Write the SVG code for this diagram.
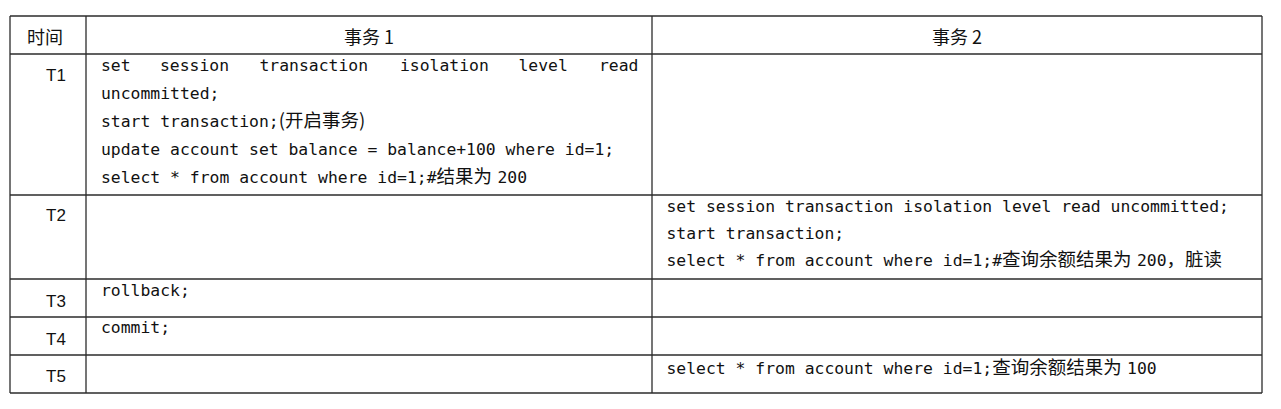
<svg xmlns="http://www.w3.org/2000/svg" width="1281" height="409" viewBox="0 0 1281 409">
<style>
  .grid line { stroke: #2b2b2b; stroke-width: 1.3; }
  .hd { font-family: "Noto Sans CJK SC", "Noto Sans", sans-serif; font-size: 18px; fill: #111; }
  .lbl { font-family: "Liberation Sans", "Noto Sans", sans-serif; font-size: 17px; fill: #111; }
  .code { font-family: "DejaVu Sans Mono", "Liberation Mono", "Noto Sans CJK SC", monospace; font-size: 16.4px; fill: #111; }
  .cjk { font-family: "Noto Sans CJK SC", sans-serif; font-size: 18.5px; }
  .sp { font-size: 9px; }
</style>
<rect width="1281" height="409" fill="#ffffff"/>
<g id="grid" class="grid">
  <line x1="10" y1="16" x2="1262" y2="16"/>
  <line x1="10" y1="54" x2="1262" y2="54"/>
  <line x1="10" y1="195" x2="1262" y2="195"/>
  <line x1="10" y1="279" x2="1262" y2="279"/>
  <line x1="10" y1="317" x2="1262" y2="317"/>
  <line x1="10" y1="355" x2="1262" y2="355"/>
  <line x1="10" y1="393" x2="1262" y2="393"/>
  <line x1="10" y1="16" x2="10" y2="393"/>
  <line x1="86" y1="16" x2="86" y2="393"/>
  <line x1="652" y1="16" x2="652" y2="393"/>
  <line x1="1262" y1="16" x2="1262" y2="393"/>
</g>
<g id="header">
  <text class="hd" x="27" y="44">时间</text>
  <text class="hd" x="369" y="44" text-anchor="middle">事务 1</text>
  <text class="hd" x="957" y="44" text-anchor="middle">事务 2</text>
</g>
<g id="row-T1">
  <text class="lbl" x="46" y="81">T1</text>
  <text class="code" y="70.5"><tspan x="101">set</tspan><tspan x="160">session</tspan><tspan x="259.5">transaction</tspan><tspan x="400">isolation</tspan><tspan x="518.5">level</tspan><tspan x="599">read</tspan></text>
  <text class="code" x="101" y="98.7">uncommitted;</text>
  <text class="code" x="101" y="126.9">start transaction;<tspan class="cjk">(开启事务)</tspan></text>
  <text class="code" x="101" y="155.1">update account set balance = balance+100 where id=1;</text>
  <text class="code" x="101" y="183.3">select * from account where id=1;#<tspan class="cjk">结果为</tspan><tspan class="sp"> </tspan>200</text>
</g>
<g id="row-T2">
  <text class="lbl" x="46" y="221">T2</text>
  <text class="code" x="666.5" y="212">set session transaction isolation level read uncommitted;</text>
  <text class="code" x="666.5" y="239">start transaction;</text>
  <text class="code" x="666.5" y="266">select * from account where id=1;#<tspan class="cjk">查询余额结果为</tspan><tspan class="sp"> </tspan>200<tspan class="cjk">，脏读</tspan></text>
</g>
<g id="row-T3">
  <text class="lbl" x="46" y="307">T3</text>
  <text class="code" x="101" y="296">rollback;</text>
</g>
<g id="row-T4">
  <text class="lbl" x="46" y="344.5">T4</text>
  <text class="code" x="101" y="333">commit;</text>
</g>
<g id="row-T5">
  <text class="lbl" x="46" y="382">T5</text>
  <text class="code" x="666.5" y="374">select * from account where id=1;<tspan class="cjk">查询余额结果为</tspan><tspan class="sp"> </tspan>100</text>
</g>
</svg>
